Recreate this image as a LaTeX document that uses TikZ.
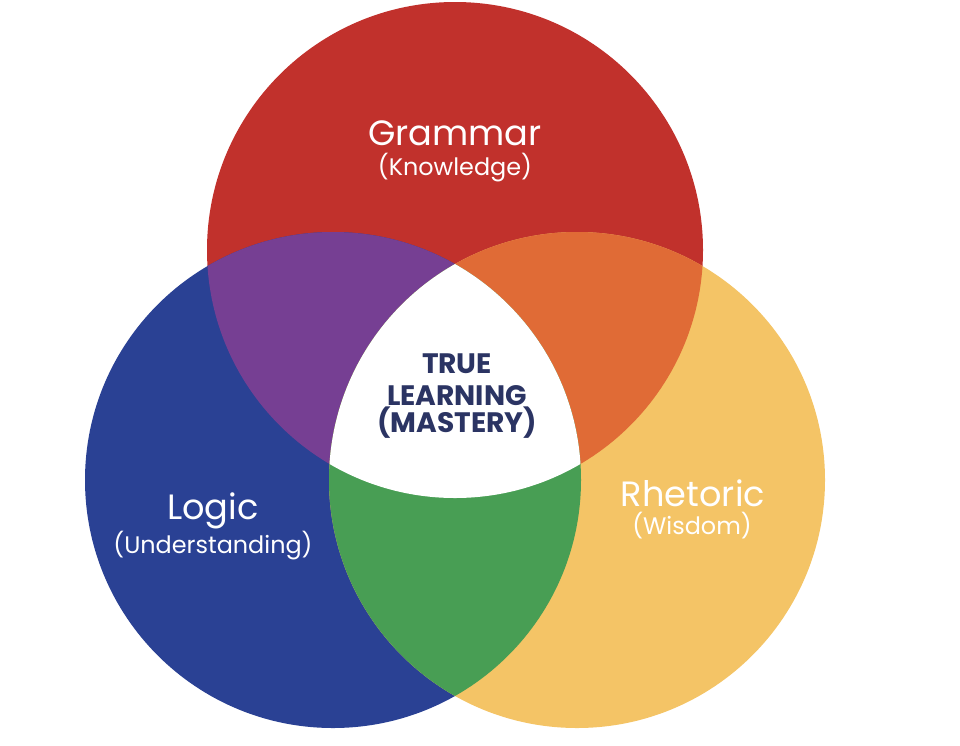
\documentclass[tikz,border=0pt]{standalone}
\usepackage{fontspec}
\setmainfont{Poppins}
\usetikzlibrary{positioning}

\definecolor{gramred}{HTML}{C1312C}
\definecolor{logicblue}{HTML}{2A4194}
\definecolor{rhetyellow}{HTML}{F4C466}
\definecolor{mixpurple}{HTML}{763F93}
\definecolor{mixorange}{HTML}{E06B36}
\definecolor{mixgreen}{HTML}{489E54}
\definecolor{corenavy}{HTML}{2B3463}

\begin{document}
\begin{tikzpicture}[x=0.025cm, y=-0.025cm,
  every node/.style={inner sep=0pt, text=white},
  title/.style={anchor=base, font=\fontsize{25}{30}\selectfont},
  sub/.style={anchor=base, font=\fontsize{17}{20}\selectfont},
  core/.style={anchor=base, text=corenavy, font=\bfseries\fontsize{20}{24}\selectfont}]
\useasboundingbox (0,0) rectangle (960,745);
% circle centres
\coordinate (gram) at (455,250);
\coordinate (logic) at (333,480);
\coordinate (rhet) at (577,480);
\def\rad{248}
% the three circles
\fill[gramred] (gram) circle (\rad);
\fill[logicblue] (logic) circle (\rad);
\fill[rhetyellow] (rhet) circle (\rad);
% pairwise overlaps
\begin{scope}
  \clip (gram) circle (\rad);
  \fill[mixpurple] (logic) circle (\rad);
  \fill[mixorange] (rhet) circle (\rad);
\end{scope}
\begin{scope}
  \clip (logic) circle (\rad);
  \fill[mixgreen] (rhet) circle (\rad);
\end{scope}
% centre
\begin{scope}
  \clip (gram) circle (\rad);
  \clip (logic) circle (\rad);
  \fill[white] (rhet) circle (\rad);
\end{scope}
% labels
\node[title] (grammar) at (455,145) {Grammar};
\node[sub] (knowledge) at (455,175) {(Knowledge)};
\node[title] (logictxt) at (213,519) {Logic};
\node[sub] (understanding) at (213,553) {(Understanding)};
\node[title] (rhetoric) at (693,506) {Rhetoric};
\node[sub] (wisdom) at (692,534) {(Wisdom)};
\node[core] (truetxt) at (457,373) {TRUE};
\node[core] (learning) at (457,405) {LEARNING};
\node[core] (mastery) at (457,432) {(MASTERY)};
\end{tikzpicture}
\end{document}
